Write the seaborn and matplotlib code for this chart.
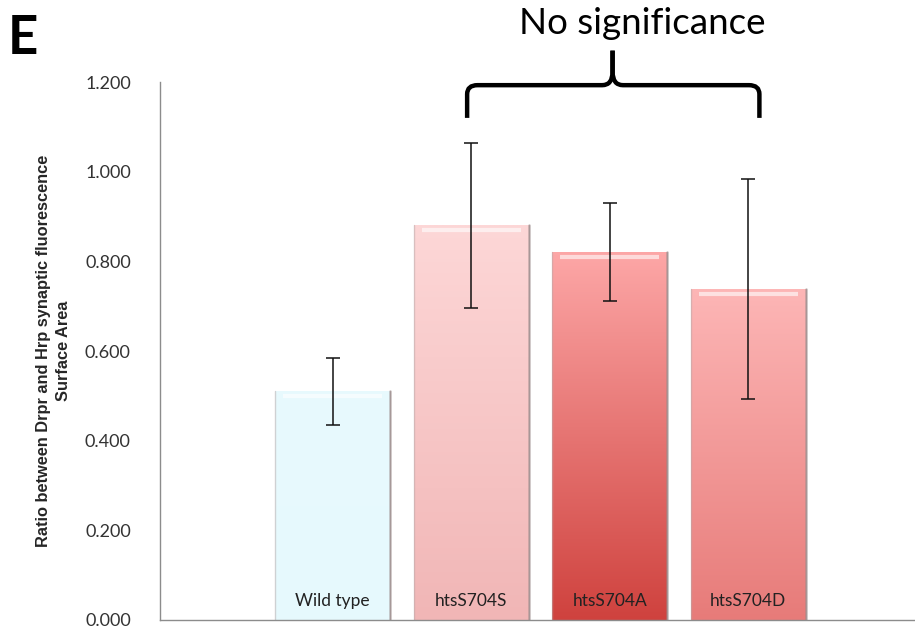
import numpy as np
import pandas as pd
import matplotlib
matplotlib.use("Agg")
import matplotlib.pyplot as plt
import seaborn as sns
from matplotlib.colors import LinearSegmentedColormap
from matplotlib.path import Path
from matplotlib.patches import PathPatch

categories = ["Wild type", "htsS704S", "htsS704A", "htsS704D"]
means = [0.510, 0.880, 0.821, 0.738]
errors = [0.074, 0.184, 0.110, 0.245]
top_colors = ["#e8f9fd", "#fdd7d7", "#fda7a7", "#fdb6b6"]
bottom_colors = ["#e6fafe", "#f1b6b6", "#cf423e", "#e77b79"]
yticks = [0.0, 0.2, 0.4, 0.6, 0.8, 1.0, 1.2]
ylabel = "Ratio between Drpr and Hrp synaptic fluorescence\nSurface Area"
annotation = "No significance"
panel = "E"

sns.set_style("white")
plt.rcParams["font.family"] = ["Lato", "DejaVu Sans"]

df = pd.DataFrame({"cat": categories, "val": means})

fig = plt.figure(figsize=(9.15, 6.3), dpi=100)
ax = fig.add_axes([0.1749, 0.0159, 0.8240, 0.8539])

sns.barplot(data=df, x="cat", y="val", hue="cat", palette=top_colors,
            saturation=1, width=0.83, legend=False, ax=ax,
            edgecolor="#b0a0a0", linewidth=0.6)

ax.set_ylim(0, 1.2)
ax.set_xlim(-1.247, 4.196)

# gradient fills clipped to bars
for i, p in enumerate(ax.patches[:len(categories)]):
    x0, y0 = p.get_x(), p.get_y()
    w, h = p.get_width(), p.get_height()
    cmap = LinearSegmentedColormap.from_list("g", [bottom_colors[i], top_colors[i]])
    grad = np.linspace(0, 1, 256).reshape(-1, 1)
    im = ax.imshow(grad, extent=[x0, x0 + w, y0, y0 + h], origin="lower",
                   aspect="auto", cmap=cmap, zorder=p.get_zorder() + 0.1)
    im.set_clip_path(p)
    # top bevel highlight
    ax.plot([x0 + w * 0.07, x0 + w * 0.93], [y0 + h - 0.011, y0 + h - 0.011],
            color="white", lw=3.0, alpha=0.6, zorder=p.get_zorder() + 0.2,
            solid_capstyle="butt")
    # side shadows
    ax.plot([x0 + w, x0 + w], [y0, y0 + h], color="#9a8a8a", lw=1.8, alpha=0.6,
            zorder=p.get_zorder() + 0.2)
    ax.plot([x0, x0], [y0, y0 + h], color="#b8aaaa", lw=1.0, alpha=0.5,
            zorder=p.get_zorder() + 0.2)
    cx = x0 + w / 2
    ax.text(cx, 0.043, categories[i], ha="center", va="center", fontsize=12.5,
            color="#222222", zorder=10)

centers = [p.get_x() + p.get_width() / 2 for p in ax.patches[:len(categories)]]
ax.errorbar(centers, means, yerr=errors, fmt="none", ecolor="#111111",
            elinewidth=1.1, capsize=5, capthick=1.1, zorder=12)

# axes styling
for s in ["top", "right"]:
    ax.spines[s].set_visible(False)
for s in ["left", "bottom"]:
    ax.spines[s].set_color("#8c8c8c")
    ax.spines[s].set_linewidth(1.0)
ax.set_xticks([])
ax.set_xlabel("")
ax.set_yticks(yticks)
ax.set_yticklabels([f"{v:.3f}" for v in yticks], fontsize=13, color="#333333")
ax.tick_params(axis="y", length=0, pad=21)
ax.set_ylabel(ylabel, fontsize=11.8, fontweight="bold",
              family=["Liberation Sans Narrow", "Liberation Sans", "DejaVu Sans"],
              labelpad=10, linespacing=1.45)

# brace
bx0, bx1, bmid = 0.97, 3.08, 2.02
yb, yh, yt = 1.12, 1.193, 1.27
r = 0.05
verts = [
    (bx0, yb), (bx0, yh - 0.02), (bx0, yh), (bx0 + r * 1.5, yh),
    (bmid - r * 1.5, yh), (bmid, yh), (bmid, yh + 0.03), (bmid, yt),
]
verts2 = [
    (bx1, yb), (bx1, yh - 0.02), (bx1, yh), (bx1 - r * 1.5, yh),
    (bmid + r * 1.5, yh), (bmid, yh), (bmid, yh + 0.03), (bmid, yt),
]
codes = [Path.MOVETO, Path.LINETO, Path.CURVE3, Path.CURVE3,
         Path.LINETO, Path.CURVE3, Path.CURVE3, Path.LINETO]
for vv in (verts, verts2):
    ax.add_patch(PathPatch(Path(vv, codes), fill=False, lw=3.2, color="black",
                           clip_on=False, capstyle="butt", joinstyle="round"))

fig.text(642 / 915, 1 - 23 / 630, annotation, ha="center", va="center",
         fontsize=26.5, color="black")
fig.text(8 / 915, 1 - 38 / 630, panel, ha="left", va="center",
         fontsize=38, fontweight="bold", color="black")

fig.savefig("out.png", dpi=100)
